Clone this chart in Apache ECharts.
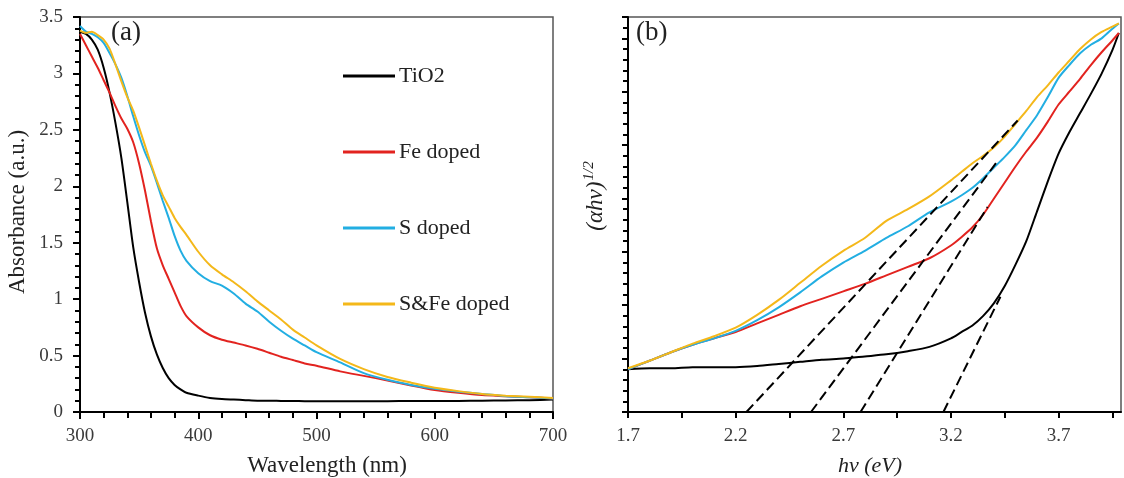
<!DOCTYPE html>
<html>
<head>
<meta charset="utf-8">
<script src="https://cdn.jsdelivr.net/npm/echarts@6/dist/echarts.min.js"></script>
<style>
  html, body { margin: 0; padding: 0; background: #fff; }
  #chart { width: 1124px; height: 478px; }
</style>
</head>
<body>
<div id="chart"></div>
<script>
// (a) UV-vis absorbance spectra, A vs wavelength (nm)
const wavelength = [300,305,310,315,320,325,330,335,340,345,350,355,360,365,370,375,380,385,390,
  400,410,420,430,440,450,460,470,480,490,500,520,540,560,580,600,620,640,660,680,700];
const absTiO2 = [3.37,3.35,3.30,3.21,3.05,2.83,2.56,2.25,1.86,1.46,1.15,0.88,0.67,0.51,0.39,0.30,0.24,0.20,0.17,
  0.145,0.125,0.115,0.11,0.105,0.10,0.10,0.098,0.097,0.096,0.095,0.095,0.095,0.096,0.097,0.097,0.098,0.10,0.102,0.105,0.11];
const absFe = [3.35,3.25,3.15,3.05,2.94,2.83,2.71,2.60,2.51,2.39,2.20,1.96,1.69,1.45,1.30,1.18,1.06,0.94,0.85,
  0.75,0.68,0.64,0.615,0.59,0.56,0.525,0.49,0.46,0.43,0.41,0.36,0.32,0.28,0.235,0.195,0.17,0.15,0.14,0.13,0.12];
const absS = [3.42,3.37,3.35,3.32,3.27,3.18,3.08,2.96,2.80,2.62,2.45,2.30,2.18,2.03,1.87,1.72,1.56,1.43,1.34,
  1.23,1.16,1.12,1.05,0.96,0.89,0.80,0.72,0.65,0.59,0.53,0.44,0.345,0.285,0.24,0.205,0.18,0.16,0.14,0.13,0.12];
const absSFe = [3.38,3.36,3.37,3.34,3.30,3.22,3.08,2.93,2.79,2.67,2.52,2.36,2.20,2.05,1.92,1.82,1.72,1.64,1.57,
  1.42,1.30,1.22,1.15,1.07,0.98,0.90,0.82,0.73,0.66,0.59,0.47,0.38,0.31,0.26,0.215,0.185,0.16,0.145,0.135,0.125];

// (b) Tauc plot, (αhν)^1/2 vs photon energy (eV)
const energy = [1.7,1.8,1.9,2.0,2.1,2.2,2.3,2.4,2.5,2.6,2.7,2.8,2.9,3.0,3.1,3.2,3.25,3.3,3.35,3.4,3.45,3.5,
  3.55,3.6,3.65,3.7,3.75,3.8,3.85,3.9,3.95,3.98];
const taucTiO2 = [0.40,0.41,0.41,0.42,0.42,0.42,0.43,0.45,0.47,0.49,0.50,0.52,0.54,0.57,0.61,0.69,0.75,0.81,0.90,1.02,1.18,1.38,
  1.60,1.88,2.16,2.42,2.62,2.80,2.98,3.17,3.39,3.55];
const taucFe = [0.40,0.48,0.56,0.63,0.69,0.75,0.83,0.91,0.99,1.06,1.13,1.20,1.28,1.36,1.44,1.56,1.64,1.73,1.85,2.00,2.15,2.30,
  2.44,2.57,2.72,2.88,3.00,3.12,3.25,3.37,3.48,3.55];
const taucS = [0.40,0.48,0.56,0.63,0.69,0.76,0.86,0.98,1.12,1.27,1.40,1.51,1.63,1.74,1.87,1.97,2.03,2.10,2.19,2.29,2.39,2.50,
  2.64,2.78,2.95,3.13,3.25,3.36,3.44,3.50,3.59,3.64];
const taucSFe = [0.41,0.48,0.56,0.64,0.71,0.79,0.91,1.05,1.21,1.37,1.51,1.63,1.79,1.90,2.02,2.17,2.25,2.33,2.40,2.48,2.58,2.70,
  2.82,2.95,3.06,3.18,3.29,3.40,3.49,3.56,3.61,3.64];

// Linear band-edge extrapolations: [x-intercept point, tangent end point] in (eV, (αhν)^1/2)
const tangentSFe  = [[2.25, 0], [3.51, 2.73]];
const tangentS    = [[2.55, 0], [3.42, 2.36]];
const tangentFe   = [[2.78, 0], [3.37, 1.92]];
const tangentTiO2 = [[3.165, 0], [3.43, 1.08]];

const seriesNames = ['TiO2', 'Fe doped', 'S doped', 'S&Fe doped'];
const xTicksA = [300, 400, 500, 600, 700];
const xTicksB = [1.7, 2.2, 2.7, 3.2, 3.7];

const colors = ['#000000', '#E2231F', '#22AEE2', '#F4B81A'];
const serif = '"Liberation Serif", "Times New Roman", serif';
const labelColor = '#3a3a3a';
const titleColor = '#222';

const zip = (xs, ys) => xs.map((x, i) => [x, ys[i]]);
const curveStyle = (c) => ({ color: c, width: 2 });

const specSets = [absTiO2, absFe, absS, absSFe];
const taucSets = [taucTiO2, taucFe, taucS, taucSFe];
const tangents = [tangentSFe, tangentS, tangentFe, tangentTiO2];

const series = [];
specSets.forEach((vals, i) => {
  series.push({
    name: seriesNames[i], type: 'line', xAxisIndex: 0, yAxisIndex: 0,
    data: zip(wavelength, vals), showSymbol: false, symbol: 'none',
    smooth: 0.25, lineStyle: curveStyle(colors[i]), itemStyle: { color: colors[i] },
    z: 3 + i, animation: false
  });
});
taucSets.forEach((vals, i) => {
  series.push({
    name: seriesNames[i], type: 'line', xAxisIndex: 1, yAxisIndex: 1,
    data: zip(energy, vals), showSymbol: false, symbol: 'none',
    smooth: 0.25, lineStyle: curveStyle(colors[i]), itemStyle: { color: colors[i] },
    z: 3 + i, animation: false
  });
});
tangents.forEach((seg) => {
  series.push({
    type: 'line', xAxisIndex: 1, yAxisIndex: 1, data: seg,
    showSymbol: false, symbol: 'none',
    lineStyle: { color: '#000', width: 2, type: [10, 5] },
    z: 10, animation: false, silent: true
  });
});

const axisLine = { show: true, onZero: false, lineStyle: { color: '#000', width: 2 } };
const tickLabel = { fontFamily: serif, fontSize: 19, color: labelColor };

const option = {
  animation: false,
  backgroundColor: '#fff',
  grid: [
    { left: 80, top: 17, width: 473, height: 395, show: true, borderColor: '#555', borderWidth: 1.5, backgroundColor: 'transparent' },
    { left: 628, top: 17, width: 493, height: 395, show: true, borderColor: '#555', borderWidth: 1.5, backgroundColor: 'transparent' }
  ],
  legend: {
    data: seriesNames,
    orient: 'vertical', left: 343, top: 65, padding: 0,
    icon: 'rect', itemWidth: 52, itemHeight: 3, itemGap: 54,
    selectedMode: false,
    textStyle: { fontFamily: serif, fontSize: 22, color: titleColor, padding: [0, 0, 0, -1], lineHeight: 20 }
  },
  xAxis: [
    {
      gridIndex: 0, type: 'value', min: 300, max: 700, interval: 100,
      axisLine, splitLine: { show: false },
      axisTick: { show: true, inside: false, length: 7, lineStyle: { color: '#000', width: 2 } },
      minorTick: { show: true, splitNumber: 5, length: 6, lineStyle: { color: '#000', width: 2 } },
      axisLabel: Object.assign({ margin: 15, formatter: (v) => xTicksA.includes(v) ? String(v) : '' }, tickLabel)
    },
    {
      gridIndex: 1, type: 'value', min: 1.7, max: 3.99, interval: 0.25,
      axisLine, splitLine: { show: false },
      axisTick: { show: true, inside: false, length: 6, lineStyle: { color: '#000', width: 2 } },
      axisLabel: Object.assign({
        margin: 15, showMaxLabel: false,
        formatter: (v) => {
          const hit = xTicksB.find((t) => Math.abs(t - v) < 1e-6);
          return hit !== undefined ? hit.toFixed(1) : '';
        }
      }, tickLabel)
    }
  ],
  yAxis: [
    {
      gridIndex: 0, type: 'value', min: 0, max: 3.5, interval: 0.5,
      axisLine, splitLine: { show: false },
      axisTick: { show: true, inside: false, length: 7, lineStyle: { color: '#000', width: 2 } },
      minorTick: { show: true, splitNumber: 5, length: 5, lineStyle: { color: '#000', width: 2 } },
      axisLabel: Object.assign({ margin: 17 }, tickLabel)
    },
    {
      gridIndex: 1, type: 'value', min: 0, max: 3.7, interval: 0.5,
      axisLine, splitLine: { show: false },
      axisTick: { show: true, inside: false, length: 6, lineStyle: { color: '#000', width: 2 } },
      minorTick: { show: true, splitNumber: 5, length: 5, lineStyle: { color: '#000', width: 2 } },
      axisLabel: { show: false }
    }
  ],
  graphic: [
    { type: 'text', left: 111, top: 19, style: { text: '(a)', fontFamily: serif, fontSize: 27, fill: titleColor } },
    { type: 'text', left: 636, top: 19, style: { text: '(b)', fontFamily: serif, fontSize: 27, fill: titleColor } },
    // axis titles
    { type: 'text', x: 327, y: 466, style: { text: 'Wavelength (nm)', fontFamily: serif, fontSize: 23, fill: titleColor, align: 'center', verticalAlign: 'middle' } },
    { type: 'text', x: 18, y: 212, rotation: Math.PI / 2, style: { text: 'Absorbance (a.u.)', fontFamily: serif, fontSize: 23, fill: titleColor, align: 'center', verticalAlign: 'middle' } },
    { type: 'text', x: 870, y: 466, style: {
        text: '{i|hν (eV)}', align: 'center', verticalAlign: 'middle',
        rich: { i: { fontFamily: serif, fontSize: 22, fontStyle: 'italic', fill: titleColor, color: titleColor } } } },
    { type: 'text', x: 596, y: 196, rotation: Math.PI / 2, style: {
        text: '{a|(αhν)}{b|1/2}', align: 'center', verticalAlign: 'middle',
        rich: {
          a: { fontFamily: serif, fontSize: 23, fontStyle: 'italic', fill: titleColor, color: titleColor },
          b: { fontFamily: serif, fontSize: 15, fontStyle: 'italic', fill: titleColor, color: titleColor, padding: [0, 0, 14, 1] }
        } } }
  ],
  series
};

const chart = echarts.init(document.getElementById('chart'), null, { renderer: 'canvas' });
chart.setOption(option);
</script>
</body>
</html>
